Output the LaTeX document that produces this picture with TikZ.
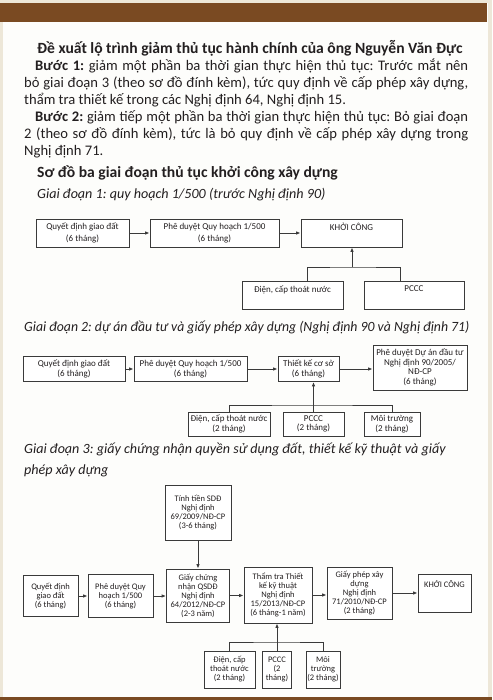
\documentclass[tikz,border=0pt]{standalone}
\usepackage{fontspec}
\usepackage{graphicx}
\setmainfont{Carlito}
\usetikzlibrary{arrows.meta}
\definecolor{sdBrown}{HTML}{7A4A22}
\definecolor{sdBeige}{HTML}{EDE7D8}
\definecolor{sdPaper}{HTML}{FDFDFB}
\definecolor{sdInk}{HTML}{231F20}
\definecolor{sdLine}{HTML}{3A3A3A}
\frenchspacing
\begin{document}
\begin{tikzpicture}[x=1pt,y=-1pt]
\tikzset{
    sdBox/.style={rectangle,draw=sdLine,line width=0.9pt,fill=white,align=center,inner sep=1pt,text=sdInk,font=\fontsize{9}{9.6}\selectfont},
    sdBoxWide/.style={sdBox,font=\fontsize{9}{12}\selectfont},
    sdBoxTall/.style={sdBox,font=\fontsize{8.5}{9}\selectfont},
    sdArrow/.style={draw=sdLine,line width=0.9pt,-{Latex[length=4.5pt,width=3.6pt]}},
    sdLink/.style={draw=sdLine,line width=0.9pt},
    sdPara/.style={anchor=base west,inner sep=0pt,text width=444pt,align=justify,text=sdInk,font=\fontsize{14.6}{17}\selectfont},
    sdHead/.style={anchor=base west,inner sep=0pt,text=sdInk,font=\fontsize{15.6}{17}\selectfont\bfseries},
    sdStage/.style={anchor=base west,inner sep=0pt,align=left,text=sdInk,font=\fontsize{14.1}{21}\selectfont\itshape},
}
\useasboundingbox (0,0) rectangle (492,700);
\fill[sdBeige] (0,0) rectangle (492,700);
\fill[sdPaper] (3,3) rectangle (488,697);
\fill[sdBrown] (0,3) rectangle (487,22);
\fill[sdBrown] (0,697) rectangle (492,700);

\node[sdHead] (title) at (37,54) {Đề xuất lộ trình giảm thủ tục hành chính của ông Nguyễn Văn Đực};
\node[sdPara] (step1) at (24,71) {\hspace*{11pt}\textbf{Bước 1:} giảm một phần ba thời gian thực hiện thủ tục: Trước mắt nên\linebreak bỏ giai đoạn 3 (theo sơ đồ đính kèm), tức quy định về cấp phép xây dựng,\linebreak thẩm tra thiết kế trong các Nghị định 64, Nghị định 15.};
\node[sdPara] (step2) at (24,122) {\hspace*{11pt}\textbf{Bước 2:} giảm tiếp một phần ba thời gian thực hiện thủ tục: Bỏ giai đoạn\linebreak 2 (theo sơ đồ đính kèm), tức là bỏ quy định về cấp phép xây dựng trong\linebreak Nghị định 71.};
\node[sdHead] (chart) at (37,178) {Sơ đồ ba giai đoạn thủ tục khởi công xây dựng};

\node[sdStage] (stage1) at (37,199) {Giai đoạn 1: quy hoạch 1/500 (trước Nghị định 90)};
\node[sdBoxWide,minimum width=93pt,minimum height=28pt] (s1a) at (82.5,233) {Quyết định giao đất\\(6 tháng)};
\node[sdBoxWide,minimum width=129pt,minimum height=28pt] (s1b) at (214.5,233) {Phê duyệt Quy hoạch 1/500\\(6 tháng)};
\node[sdBoxWide,minimum width=101pt,minimum height=28pt] (s1c) at (351.5,233) {KHỞI CÔNG\\~};
\node[sdBoxWide,minimum width=101pt,minimum height=28pt] (s1d) at (292.5,295) {Điện, cấp thoát nước\\~};
\node[sdBoxWide,minimum width=100pt,minimum height=28pt] (s1e) at (414,295) {PCCC\\~};
\coordinate (s1j) at (352,267);
\draw[sdArrow] (s1a) -- (s1b);
\draw[sdArrow] (s1b) -- (s1c);
\draw[sdLink] ([xshift=15pt]s1d.north) |- (s1j) -| ([xshift=-14pt]s1e.north);
\draw[sdArrow] (s1j) -- (s1j |- s1c.south);

\node[sdStage] (stage2) at (24,331) {\scalebox{0.975}[1]{Giai đoạn 2: dự án đầu tư và giấy phép xây dựng (Nghị định 90 và Nghị định 71)}};
\node[sdBox,minimum width=102pt,minimum height=25pt] (s2a) at (74,369) {Quyết định giao đất\\(6 tháng)};
\node[sdBox,minimum width=113pt,minimum height=25pt] (s2b) at (190.5,369) {Phê duyệt Quy hoạch 1/500\\(6 tháng)};
\node[sdBox,minimum width=61pt,minimum height=25pt] (s2c) at (308.5,369) {Thiết kế cơ sở\\(6 tháng)};
\node[sdBox,minimum width=94pt,minimum height=45pt] (s2d) at (420,367.5) {Phê duyệt Dự án đầu tư\\Nghị định 90/2005/\\NĐ-CP\\(6 tháng)};
\node[sdBox,minimum width=82pt,minimum height=24pt] (s2e) at (229,424) {Điện, cấp thoát nước\\(2 tháng)};
\node[sdBox,minimum width=61pt,minimum height=24pt] (s2f) at (313.5,424) {PCCC\\(2 tháng)};
\node[sdBox,minimum width=56pt,minimum height=24pt] (s2g) at (392,424) {Môi trường\\(2 tháng)};
\coordinate (s2j) at (313.5,405);
\draw[sdArrow] (s2a) -- (s2b);
\draw[sdArrow] (s2b) -- (s2c);
\draw[sdArrow] (s2c.east) -- (s2c.east -| s2d.west);
\draw[sdLink] (s2e.north) |- (s2j) -| (s2g.north);
\draw[sdLink] (s2f.north) -- (s2j);
\draw[sdArrow] (s2j) -- (s2j |- s2c.south);

\node[sdStage] (stage3) at (24,474) {Giai đoạn 3: giấy chứng nhận quyền sử dụng đất, thiết kế kỹ thuật và giấy\\phép xây dựng};
\node[sdBoxTall,minimum width=66pt,minimum height=55pt] (s3t) at (198,512.5) {Tính tiền SDĐ\\Nghị định\\69/2009/NĐ-CP\\(3-6 tháng)};
\node[sdBoxTall,minimum width=55pt,minimum height=41pt] (s3a) at (50.5,596) {Quyết định\\giao đất\\(6 tháng)};
\node[sdBoxTall,minimum width=65pt,minimum height=43pt] (s3b) at (120.5,596) {Phê duyệt Quy\\hoạch 1/500\\(6 tháng)};
\node[sdBoxTall,minimum width=63pt,minimum height=53pt] (s3c) at (198,595.5) {Giấy chứng\\nhận QSDĐ\\Nghị định\\64/2012/NĐ-CP\\(2-3 năm)};
\node[sdBoxTall,minimum width=68pt,minimum height=56pt] (s3d) at (278,595) {Thẩm tra Thiết\\kế kỹ thuật\\Nghị định\\15/2013/NĐ-CP\\(6 tháng-1 năm)};
\node[sdBoxTall,minimum width=65pt,minimum height=52pt] (s3e) at (359.5,593) {Giấy phép xây\\dựng\\Nghị định\\71/2010/NĐ-CP\\(2 tháng)};
\node[sdBoxTall,minimum width=53pt,minimum height=38pt] (s3f) at (444.5,593) {KHỞI CÔNG\\~\\~};
\node[sdBoxTall,minimum width=51pt,minimum height=37pt] (s3g) at (229.5,669.5) {Điện, cấp\\thoát nước\\(2 tháng)};
\node[sdBoxTall,minimum width=29pt,minimum height=37pt] (s3h) at (277,669.5) {PCCC\\(2\\tháng)};
\node[sdBoxTall,minimum width=34pt,minimum height=37pt] (s3i) at (323,669.5) {Môi\\trường\\(2 tháng)};
\coordinate (s3j) at (277,642);
\draw[sdArrow] (s3t) -- (s3c);
\draw[sdArrow] (s3a.east) -- (s3a.east -| s3b.west);
\draw[sdArrow] (s3b.east) -- (s3b.east -| s3c.west);
\draw[sdArrow] (s3c.east) -- (s3c.east -| s3d.west);
\draw[sdArrow] (s3d.east) -- (s3d.east -| s3e.west);
\draw[sdArrow] (s3e.east) -- (s3e.east -| s3f.west);
\draw[sdLink] (s3g.north) |- (s3j) -| (s3i.north);
\draw[sdLink] (s3h.north) -- (s3j);
\draw[sdArrow] (s3j) -- (s3j |- s3d.south);
\end{tikzpicture}
\end{document}
